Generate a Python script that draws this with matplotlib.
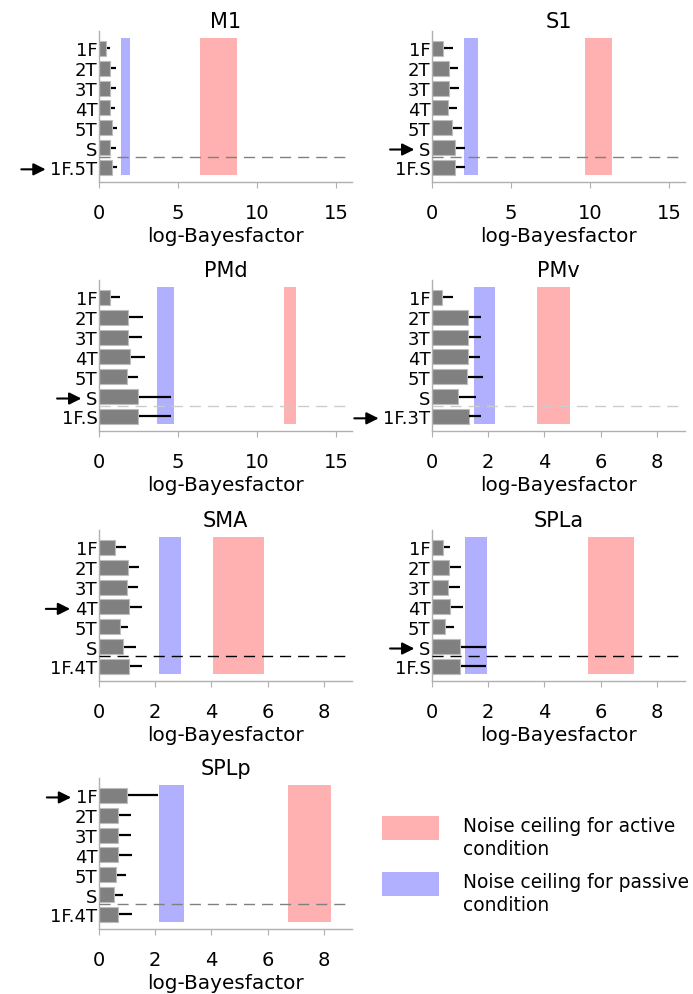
import matplotlib
matplotlib.use("Agg")
import matplotlib.pyplot as plt
from matplotlib.patches import Rectangle

plt.rcParams["font.family"] = ["DejaVu Sans"]

regions = ["M1", "S1", "PMd", "PMv", "SMA", "SPLa", "SPLp"]
base_labels = ["1F", "2T", "3T", "4T", "5T", "S"]
combo_labels = ["1F.5T", "1F.S", "1F.S", "1F.3T", "1F.4T", "1F.S", "1F.4T"]

# mean log-Bayesfactor per model (rows top to bottom), per region
means = [
    [0.42, 0.67, 0.71, 0.67, 0.80, 0.67, 0.80],
    [0.69, 1.05, 1.07, 1.03, 1.24, 1.45, 1.45],
    [0.72, 1.85, 1.83, 1.98, 1.77, 2.44, 2.44],
    [0.35, 1.29, 1.29, 1.29, 1.26, 0.94, 1.30],
    [0.56, 1.02, 0.99, 1.08, 0.74, 0.85, 1.08],
    [0.39, 0.59, 0.58, 0.63, 0.47, 1.00, 1.00],
    [1.00, 0.68, 0.68, 0.69, 0.62, 0.55, 0.69],
]
# standard error (one-sided bar to the right)
sems = [
    [0.21, 0.32, 0.30, 0.28, 0.27, 0.32, 0.27],
    [0.55, 0.55, 0.55, 0.48, 0.59, 0.59, 0.59],
    [0.54, 0.85, 0.80, 0.84, 0.65, 2.03, 2.03],
    [0.37, 0.42, 0.42, 0.39, 0.51, 0.59, 0.42],
    [0.37, 0.38, 0.38, 0.41, 0.25, 0.42, 0.41],
    [0.20, 0.40, 0.38, 0.43, 0.29, 0.90, 0.90],
    [1.05, 0.44, 0.42, 0.45, 0.32, 0.26, 0.45],
]
# noise ceilings (lower, upper)
passive_nc = [(1.37, 1.97), (2.00, 2.88), (3.69, 4.72), (1.51, 2.25),
              (2.15, 2.90), (1.17, 1.97), (2.15, 3.01)]
active_nc = [(6.41, 8.70), (9.70, 11.40), (11.73, 12.47), (3.75, 4.91),
             (4.05, 5.88), (5.56, 7.19), (6.74, 8.24)]
best_model = [6, 5, 5, 6, 3, 5, 0]
xmax = [16, 16, 16, 9, 9, 9, 9]
xtick_step = [5, 5, 5, 2, 2, 2, 2]
sep_color = ["#808080", "#808080", "#cccccc", "#cccccc", "black", "black", "#808080"]

RED = "#ffb0b0"
BLUE = "#b0b0ff"
SPINE = "#b0b0b0"

W, H = 693, 995
fig = plt.figure(figsize=(W / 100, H / 100), dpi=100)

col_left = [99, 432]
row_bottom = [183, 432, 682, 930]
ax_w, ax_h = 253, 151

axes = []
for i, reg in enumerate(regions):
    r, c = divmod(i, 2)
    ax = fig.add_axes([col_left[c] / W, (H - row_bottom[r]) / H, ax_w / W, ax_h / H])
    axes.append(ax)
    labs = base_labels + [combo_labels[i]]
    y = list(range(len(labs)))
    ax.fill_betweenx([-0.53, 6.37], *active_nc[i], color=RED, lw=0, zorder=1)
    ax.fill_betweenx([-0.53, 6.37], *passive_nc[i], color=BLUE, lw=0, zorder=1)
    ax.barh(y, means[i], height=0.76, color="#808080", edgecolor="#bdbdbd",
            lw=0.8, zorder=2)
    ax.errorbar([m + 0.06 * xmax[i] / 16 for m in means[i]], y,
                xerr=[[0] * len(y), sems[i]], fmt="none", ecolor="black",
                elinewidth=1.6, capsize=0, zorder=3)
    ax.axhline(5.5, color=sep_color[i], lw=1, dashes=(8, 5), zorder=4)
    ax.set_ylim(6.74, -0.88)
    ax.set_xlim(0, xmax[i])
    ax.set_xticks(range(0, xmax[i], xtick_step[i]))
    ax.set_yticks(y)
    ax.set_yticklabels(labs)
    ax.tick_params(axis="y", length=0, pad=1, labelsize=13)
    ax.tick_params(axis="x", length=4, color=SPINE, pad=11, labelsize=14)
    for s in ["top", "right"]:
        ax.spines[s].set_visible(False)
    for s in ["left", "bottom"]:
        ax.spines[s].set_color(SPINE)
        ax.spines[s].set_linewidth(1)
    ax.set_title(reg, fontsize=15, pad=3)
    ax.set_xlabel("log-Bayesfactor", fontsize=14.4, labelpad=3)

fig.canvas.draw()
for i, ax in enumerate(axes):
    lab = ax.get_yticklabels()[best_model[i]]
    ax.annotate("", xy=(0, 0.5), xycoords=lab, xytext=(-21, 0),
                textcoords="offset points",
                arrowprops=dict(arrowstyle="-|>,head_length=0.6,head_width=0.3",
                                color="black", lw=1.5, shrinkA=0, shrinkB=3.5,
                                mutation_scale=12))

# legend
for y0, col, txt in [(841, RED, "Noise ceiling for active\ncondition"),
                     (897, BLUE, "Noise ceiling for passive\ncondition")]:
    fig.patches.append(Rectangle((382 / W, (H - y0) / H), 57 / W, 24 / H,
                                 transform=fig.transFigure, color=col, lw=0))
    fig.text(463 / W, (H - y0 + 12 - 9) / H, txt, fontsize=13.4, va="center",
             ha="left", linespacing=1.3)

fig.savefig("out.png", dpi=100)
